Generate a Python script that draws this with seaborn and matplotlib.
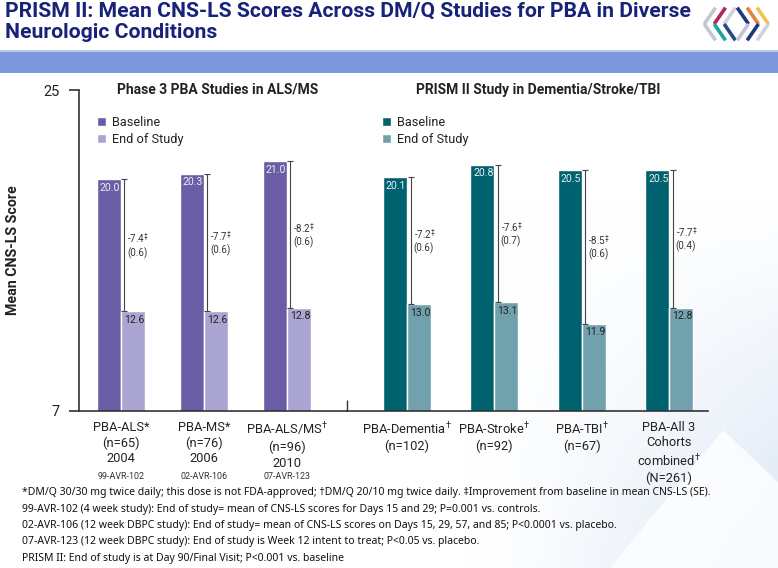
import numpy as np
import pandas as pd
import matplotlib
matplotlib.use("Agg")
import matplotlib.pyplot as plt
from matplotlib.patches import Rectangle, Polygon
from matplotlib.transforms import offset_copy
import seaborn as sns

# --- data ---
als_studies = ["PBA-ALS", "PBA-MS", "PBA-ALS/MS"]
als_ticklabels = ["PBA-ALS*\n(n=65)\n2004", "PBA-MS*\n(n=76)\n2006", "PBA-ALS/MS$^{\\dag}$\n(n=96)\n2010"]
als_codes = ["99-AVR-102", "02-AVR-106", "07-AVR-123"]
als_baseline = [20.0, 20.3, 21.0]
als_end = [12.6, 12.6, 12.8]
als_change = ["-7.4", "-7.7", "-8.2"]
als_se = ["(0.6)", "(0.6)", "(0.6)"]

prism_studies = ["PBA-Dementia", "PBA-Stroke", "PBA-TBI", "PBA-All 3"]
prism_ticklabels = ["PBA-Dementia$^{\\dag}$\n(n=102)", "PBA-Stroke$^{\\dag}$\n(n=92)", "PBA-TBI$^{\\dag}$\n(n=67)",
                    "PBA-All 3\nCohorts\ncombined$^{\\dag}$\n(N=261)"]
prism_baseline = [20.1, 20.8, 20.5, 20.5]
prism_end = [13.0, 13.1, 11.9, 12.8]
prism_change = ["-7.2", "-7.6", "-8.5", "-7.7"]
prism_se = ["(0.6)", "(0.7)", "(0.6)", "(0.4)"]

timepoints = ["Baseline", "End of Study"]

footnotes = [
    "*DM/Q 30/30 mg twice daily; this dose is not FDA-approved; \u2020DM/Q 20/10 mg twice daily. \u2021Improvement from baseline in mean CNS-LS (SE).",
    "99-AVR-102 (4 week study): End of study= mean of CNS-LS scores for Days 15 and 29; P=0.001 vs. controls.",
    "02-AVR-106 (12 week DBPC study): End of study= mean of CNS-LS scores on Days 15, 29, 57, and 85; P<0.0001 vs. placebo.",
    "07-AVR-123 (12 week DBPC study): End of study is Week 12 intent to treat; P<0.05 vs. placebo.",
    "PRISM II: End of study is at Day 90/Final Visit; P<0.001 vs. baseline",
]


def long_form(studies, base, end):
    return pd.DataFrame({
        "study": studies * 2,
        "timepoint": [timepoints[0]] * len(studies) + [timepoints[1]] * len(studies),
        "score": base + end,
    })


als_df = long_form(als_studies, als_baseline, als_end)
prism_df = long_form(prism_studies, prism_baseline, prism_end)

sns.set_style("white")
plt.rcParams["font.family"] = ["Roboto", "DejaVu Sans"]
plt.rcParams["mathtext.fontset"] = "custom"
plt.rcParams["mathtext.rm"] = "Roboto"
plt.rcParams["mathtext.it"] = "Roboto:italic"
plt.rcParams["mathtext.bf"] = "Roboto:bold"

W, H = 778, 568
fig = plt.figure(figsize=(W / 100, H / 100), dpi=100)
fig.patch.set_facecolor("white")

# background wash bottom right
bg = fig.add_axes([0, 0, 1, 1], zorder=-5)
xx, yy = np.meshgrid(np.linspace(0, 1, 200), np.linspace(0, 1, 150))
a = np.clip((xx - 0.6) / 0.4, 0, 1) ** 1.3 * np.clip((yy - 0.35) / 0.65, 0, 1) ** 1.1
c0 = np.array([1.0, 1.0, 1.0])
c1 = np.array([0.85, 0.90, 0.96])
img = c0[None, None, :] * (1 - a[..., None]) + c1[None, None, :] * a[..., None]
bg.imshow(img, extent=[0, W, H, 0], aspect="auto")
bg.add_patch(Polygon([[723, 430], [610, 568], [778, 568], [778, 482]], closed=True,
                     facecolor="white", alpha=0.8, edgecolor="none"))
bg.set_xlim(0, W)
bg.set_ylim(H, 0)
bg.axis("off")

# header band
bg.add_patch(Rectangle((0, 50), W, 23, facecolor="#7b98de", edgecolor="none"))
bg.add_patch(Rectangle((0, 50), W, 1.5, facecolor="#b8c8ee", edgecolor="none"))

fig.text(5 / W, 1 - 2 / H, "PRISM II: Mean CNS-LS Scores Across DM/Q Studies for PBA in Diverse\nNeurologic Conditions",
         ha="left", va="top", fontsize=15.2, fontweight="bold", color="#17237a", linespacing=1.12)

# logo
lg = fig.add_axes([702 / W, 1 - 42 / H, 70 / W, 36 / H])
lg.set_xlim(-0.05, 1.5)
lg.set_ylim(-0.05, 1.05)
lg.axis("off")
for x0, ctop, cbot in [(0.00, "#c4c5d0", "#c4c5d0"), (0.22, "#b3245e", "#1ba69e"), (0.44, "#d0d1da", "#2a4a86")]:
    lg.plot([x0 + 0.25, x0], [1.0, 0.5], color=ctop, lw=2.6, solid_capstyle="butt")
    lg.plot([x0, x0 + 0.25], [0.5, 0.0], color=cbot, lw=2.6, solid_capstyle="butt")
for x0, ctop, cbot in [(0.73, "#1d3a78", "#c4c5d0"), (0.95, "#e6803a", "#1d3a78"), (1.17, "#f2c24f", "#d0d1da")]:
    lg.plot([x0, x0 + 0.25], [1.0, 0.5], color=ctop, lw=2.6, solid_capstyle="butt")
    lg.plot([x0 + 0.25, x0], [0.5, 0.0], color=cbot, lw=2.6, solid_capstyle="butt")

# axes geometry (pixels)
x_axis0, x_split, x_axis1 = 79, 347, 708
y_top, y_bot = 90, 411
ax1 = fig.add_axes([x_axis0 / W, 1 - y_bot / H, (x_split - x_axis0) / W, (y_bot - y_top) / H])
ax2 = fig.add_axes([x_split / W, 1 - y_bot / H, (x_axis1 - x_split) / W, (y_bot - y_top) / H])

panels = [
    (ax1, als_df, ["#6b5ca6", "#aaa5d2"], (-0.506, 2.723), 0.58, als_ticklabels, als_change, als_se,
     "Phase 3 PBA Studies in ALS/MS", 18, 139),
    (ax2, prism_df, ["#00626f", "#72a1ae"], (-0.687, 3.446), 0.55, prism_ticklabels, prism_change, prism_se,
     "PRISM II Study in Dementia/Stroke/TBI", 35, 191),
]

for ax, df, pal, xlim, width, ticklabels, change, se, subtitle, leg_dx, title_dx in panels:
    ax.set_facecolor("none")
    sns.barplot(data=df, x="study", y="score", hue="timepoint", palette=pal, width=width,
                saturation=1, gap=0, ax=ax, errorbar=None)
    ax.set_xlim(*xlim)
    ax.set_ylim(7, 25)
    ax.set_xlabel("")
    ax.set_ylabel("")
    ax.set_xticks(range(len(ticklabels)))
    ax.set_xticklabels(ticklabels, fontsize=9.3, color="#222222", linespacing=1.25)
    ax.tick_params(axis="x", length=0, pad=7)

    base_bars, end_bars = ax.containers[0], ax.containers[1]
    line_tr = offset_copy(ax.transData, fig=fig, x=3.5, y=0, units="dots")
    txt_tr = offset_copy(ax.transData, fig=fig, x=6.5, y=0, units="dots")
    in_tr = offset_copy(ax.transData, fig=fig, x=3, y=-3.5, units="dots")
    for i, (bb, be) in enumerate(zip(base_bars, end_bars)):
        xr = bb.get_x() + bb.get_width()
        top, bot = bb.get_height(), be.get_height()
        ax.plot([xr, xr], [top, bot], color="#444444", lw=0.8, marker="_", ms=5, mew=0.8, transform=line_tr)
        ax.text(xr, (top + bot) / 2, f"{change[i]}$^{{\\ddag}}$\n{se[i]}", transform=txt_tr, ha="left",
                va="center", fontsize=7, color="#333333", linespacing=1.2)
        ax.text(bb.get_x(), top, f"{top:.1f}", transform=in_tr, ha="left", va="top", fontsize=7.6,
                color="#eeeef5")
        ax.text(be.get_x(), bot, f"{bot:.1f}", transform=in_tr, ha="left", va="top", fontsize=7.6,
                color="#222222")

    handles, labels = ax.get_legend_handles_labels()
    ax.legend(handles, labels, loc="upper left", bbox_to_anchor=(leg_dx / (ax.bbox.width), 0.92),
              frameon=False, fontsize=9.2, handlelength=0.7, handleheight=0.7, handletextpad=0.5,
              labelspacing=0.3, borderpad=0, borderaxespad=0, labelcolor="#222222")

    ax.set_title(subtitle, fontsize=10, fontweight="bold", color="#222222", pad=0, va="center")
    ax.title.set_position((title_dx / ax.bbox.width, 1.024))

# study codes under the ALS labels
for i, code in enumerate(als_codes):
    ax1.annotate(code, xy=(i, 0), xycoords=("data", "axes fraction"), xytext=(0, -47.5), textcoords="offset points",
                 ha="center", va="center", fontsize=6.4, color="#333333")

sns.despine(ax=ax1, top=True, right=True)
sns.despine(ax=ax2, top=True, right=True, left=True)
for sp in ["left", "bottom"]:
    ax1.spines[sp].set_color("#333333")
    ax1.spines[sp].set_linewidth(1.2)
ax2.spines["bottom"].set_color("#333333")
ax2.spines["bottom"].set_linewidth(1.2)

ax1.set_yticks([7, 25])
ax1.tick_params(axis="y", direction="out", length=7, width=1.2, color="#333333", labelsize=10.5,
                labelcolor="#222222", pad=7, left=True)
ax2.set_yticks([])
ax2.set_xticks([ax2.get_xlim()[0]], minor=True)
ax2.tick_params(axis="x", which="minor", direction="in", length=8, width=1, color="#333333", bottom=True)

ax1.set_ylabel("Mean CNS-LS Score", fontsize=10.2, fontweight="bold", color="#222222")
ax1.yaxis.set_label_coords(-(x_axis0 - 20) / (x_split - x_axis0), 0.5)

for k, line in enumerate(footnotes):
    fig.text(22 / W, 1 - (493 + 16.3 * k) / H, line, ha="left", va="center", fontsize=7.5, fontweight="bold",
             color="#111111", family=["Noto Sans", "DejaVu Sans"])

fig.savefig("out.png", dpi=100)
